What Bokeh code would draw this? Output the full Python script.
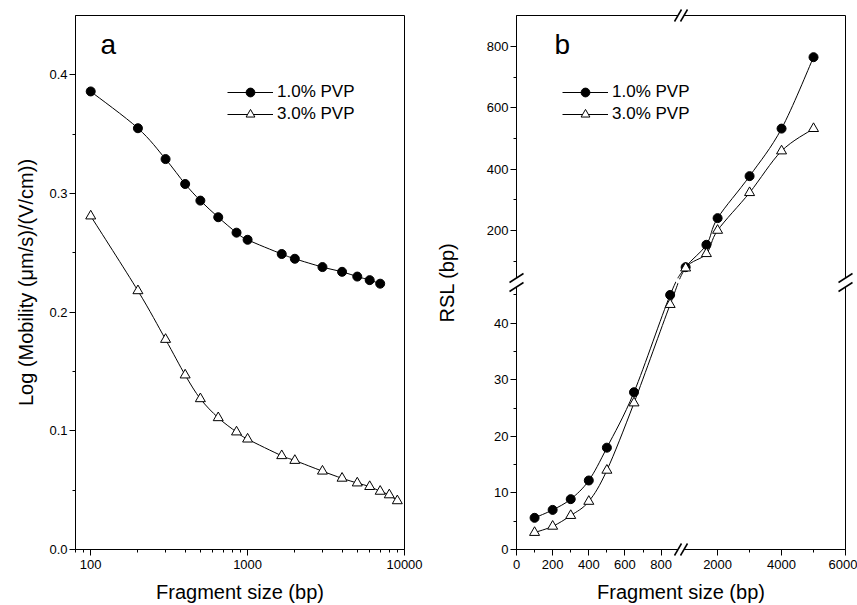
from bokeh.plotting import figure
from bokeh.layouts import row
from bokeh.models import (FixedTicker, PrintfTickFormatter, Range1d, Legend,
                          LegendItem, Label)
from bokeh.embed import file_html
from bokeh.resources import INLINE
import math

FONT = "Liberation Sans"

# ---------------- data ----------------
# panel a : Log mobility vs fragment size (log x)
size_a_1 = [100, 200, 300, 400, 500, 650, 850, 1000, 1650, 2000, 3000, 4000, 5000, 6000, 7000]
mob_a_1 = [0.386, 0.355, 0.329, 0.308, 0.294, 0.280, 0.267, 0.261, 0.249, 0.245,
           0.238, 0.234, 0.230, 0.227, 0.224]
size_a_3 = [100, 200, 300, 400, 500, 650, 850, 1000, 1650, 2000, 3000, 4000, 5000,
            6000, 7000, 8000, 9000]
mob_a_3 = [0.281, 0.218, 0.177, 0.147, 0.127, 0.111, 0.099, 0.093, 0.079, 0.075,
           0.066, 0.060, 0.056, 0.053, 0.049, 0.046, 0.041]

# panel b : RSL vs fragment size (broken axes)
size_b = [100, 200, 300, 400, 500, 650, 850, 1000, 1650, 2000, 3000, 4000, 5000]
rsl_b_1 = [5.6, 7.0, 8.9, 12.2, 18.0, 27.8, 45.0, 80, 153, 240, 377, 532, 765]
rsl_b_3 = [3.0, 4.1, 6.0, 8.5, 14.0, 25.9, 43.3, 77, 124, 200, 323, 459, 532]

series_labels = ["1.0% PVP", "3.0% PVP"]

xa_major = [100, 1000, 10000]
xa_minor = [80, 90, 200, 300, 400, 500, 600, 700, 800, 900,
            2000, 3000, 4000, 5000, 6000, 7000, 8000, 9000]
ya_major = [0.0, 0.1, 0.2, 0.3, 0.4]
ya_minor = [0.05, 0.15, 0.25, 0.35]

xb_major = [0, 200, 400, 600, 800, 2000, 4000, 6000]
xb_minor = [100, 300, 500, 700, 3000, 5000]
yb_major = [0, 10, 20, 30, 40, 200, 400, 600, 800]
yb_minor = [5, 15, 25, 35, 45, 100, 300, 500, 700]

# broken-axis segments of panel b (each occupies half of the frame)
XB_LOW, XB_HIGH, XB_CUT = (0, 910), (855, 6000), 900
YB_LOW, YB_HIGH, YB_CUT = (0, 47.2), (30, 901), 47

FW, FH = 329, 534  # frame size in px


def fx_b(v):
    if v <= XB_CUT:
        t = 0.5 * (v - XB_LOW[0]) / (XB_LOW[1] - XB_LOW[0])
    else:
        t = 0.5 + 0.5 * (v - XB_HIGH[0]) / (XB_HIGH[1] - XB_HIGH[0])
    return round(t, 6)


def fy_b(v):
    if v <= YB_CUT:
        t = 0.5 * (v - YB_LOW[0]) / (YB_LOW[1] - YB_LOW[0])
    else:
        t = 0.5 + 0.5 * (v - YB_HIGH[0]) / (YB_HIGH[1] - YB_HIGH[0])
    return round(t, 6)


def cr_bezier(xs, ys):
    n = len(xs)
    out = dict(x0=[], y0=[], x1=[], y1=[], cx0=[], cy0=[], cx1=[], cy1=[])
    for i in range(n - 1):
        a = max(i - 1, 0)
        d = min(i + 2, n - 1)
        out["x0"].append(xs[i]); out["y0"].append(ys[i])
        out["x1"].append(xs[i + 1]); out["y1"].append(ys[i + 1])
        out["cx0"].append(xs[i] + (xs[i + 1] - xs[a]) / 6)
        out["cy0"].append(ys[i] + (ys[i + 1] - ys[a]) / 6)
        out["cx1"].append(xs[i + 1] - (xs[d] - xs[i]) / 6)
        out["cy1"].append(ys[i + 1] - (ys[d] - ys[i]) / 6)
    return out


def style(p, ylab_standoff):
    p.background_fill_color = "white"
    p.border_fill_color = "white"
    p.outline_line_color = "black"
    p.outline_line_width = 1
    p.outline_line_alpha = 1
    p.grid.visible = False
    for ax in (p.xaxis[0], p.yaxis[0]):
        ax.axis_line_color = "black"
        ax.axis_line_width = 1
        ax.major_tick_line_color = "black"
        ax.minor_tick_line_color = "black"
        ax.major_tick_out = 6
        ax.major_tick_in = 0
        ax.minor_tick_out = 3
        ax.minor_tick_in = 0
        ax.major_label_text_font = FONT
        ax.major_label_text_font_size = "13px"
        ax.major_label_text_color = "black"
        ax.axis_label_text_font = FONT
        ax.axis_label_text_font_size = "20px"
        ax.axis_label_text_font_style = "normal"
        ax.axis_label_text_color = "black"
    p.xaxis[0].major_label_standoff = 4
    p.xaxis[0].axis_label_standoff = 9
    p.yaxis[0].major_label_standoff = 2
    p.yaxis[0].axis_label_standoff = ylab_standoff


def add_series(p, xs, ys, log_x=False):
    if log_x:
        lx = [math.log10(v) for v in xs]
        bz = cr_bezier(lx, ys)
        for k in ("x0", "x1", "cx0", "cx1"):
            bz[k] = [10 ** v for v in bz[k]]
    else:
        bz = cr_bezier(xs, ys)
    return p.bezier(line_color="black", line_width=1, **bz)


def add_legend(p, items, x, y):
    leg = Legend(items=items, location=(x, y), glyph_width=46, glyph_height=22,
                 label_height=22, label_standoff=4, spacing=0, padding=0, margin=0,
                 border_line_alpha=0, background_fill_alpha=0,
                 label_text_font=FONT, label_text_font_size="17px",
                 label_text_color="black")
    p.add_layout(leg)


# ---------------- panel a ----------------
pa = figure(width=430, height=605, x_axis_type="log", x_range=Range1d(80, 10000),
            y_range=Range1d(0, 0.45), output_backend="svg", toolbar_location=None,
            min_border_left=75, min_border_right=26, min_border_top=15,
            min_border_bottom=56)
style(pa, 9)
pa.xaxis[0].ticker = FixedTicker(ticks=xa_major, minor_ticks=xa_minor)
pa.xaxis[0].formatter = PrintfTickFormatter(format="%d")
pa.yaxis[0].ticker = FixedTicker(ticks=ya_major, minor_ticks=ya_minor)
pa.yaxis[0].formatter = PrintfTickFormatter(format="%.1f")
pa.xaxis[0].axis_label = "Fragment size (bp)"
pa.yaxis[0].axis_label = "Log (Mobility (\u03bcm/s)/(V/cm))"

la1 = add_series(pa, size_a_1, mob_a_1, log_x=True)
la3 = add_series(pa, size_a_3, mob_a_3, log_x=True)
sa1 = pa.scatter(size_a_1, mob_a_1, marker="circle", size=9, fill_color="black",
                 line_color="black")
sa3 = pa.scatter(size_a_3, mob_a_3, marker="triangle", size=10, fill_color="white",
                 line_color="black", line_width=1)
add_legend(pa, [LegendItem(label=series_labels[0], renderers=[la1, sa1]),
                LegendItem(label=series_labels[1], renderers=[la3, sa3])], 152, 424)
pa.add_layout(Label(x=25, y=505, x_units="screen", y_units="screen", text="a",
                    text_font=FONT, text_font_size="28px", text_color="black",
                    text_baseline="alphabetic"))

# ---------------- panel b ----------------
pb = figure(width=427, height=605, x_range=Range1d(0, 1), y_range=Range1d(0, 1),
            output_backend="svg", toolbar_location=None,
            min_border_left=86, min_border_right=12, min_border_top=15,
            min_border_bottom=56)
style(pb, 26)
pb.xaxis[0].ticker = FixedTicker(ticks=[fx_b(v) for v in xb_major],
                                 minor_ticks=[fx_b(v) for v in xb_minor])
pb.xaxis[0].major_label_overrides = {fx_b(v): str(v) for v in xb_major}
pb.yaxis[0].ticker = FixedTicker(ticks=[fy_b(v) for v in yb_major],
                                 minor_ticks=[fy_b(v) for v in yb_minor])
pb.yaxis[0].major_label_overrides = {fy_b(v): str(v) for v in yb_major}
pb.xaxis[0].axis_label = "Fragment size (bp)"
pb.yaxis[0].axis_label = "RSL (bp)"

xb = [fx_b(v) for v in size_b]
yb1 = [fy_b(v) for v in rsl_b_1]
yb3 = [fy_b(v) for v in rsl_b_3]
lb1 = add_series(pb, xb, yb1)
lb3 = add_series(pb, xb, yb3)

ux, uy = 1.0 / FW, 1.0 / FH
bx, by = 0.5, 0.5
# gap in the curves where they cross the axis break
pb.segment(x0=[bx - 9 * 0.87 * ux], y0=[by + 9 * 0.49 * uy],
           x1=[bx + 9 * 0.87 * ux], y1=[by - 9 * 0.49 * uy],
           line_color="white", line_width=4)

sb1 = pb.scatter(xb, yb1, marker="circle", size=9, fill_color="black", line_color="black")
sb3 = pb.scatter(xb, yb3, marker="triangle", size=10, fill_color="white",
                 line_color="black", line_width=1)
add_legend(pb, [LegendItem(label=series_labels[0], renderers=[lb1, sb1]),
                LegendItem(label=series_labels[1], renderers=[lb3, sb3])], 46, 424)
pb.add_layout(Label(x=38, y=505, x_units="screen", y_units="screen", text="b",
                    text_font=FONT, text_font_size="28px", text_color="black",
                    text_baseline="alphabetic"))

# axis break marks
pb.segment(x0=[0, 1], y0=[by - 4.5 * uy] * 2, x1=[0, 1], y1=[by + 4.5 * uy] * 2,
           line_color="white", line_width=4, level="overlay")
pb.segment(x0=[bx - 3 * ux] * 2, y0=[0, 1], x1=[bx + 3 * ux] * 2, y1=[0, 1],
           line_color="white", line_width=4, level="overlay")
sx0, sy0, sx1, sy1 = [], [], [], []
for axx in (0, 1):
    for s in (-4.5, 4.5):
        sx0.append(axx - 7 * ux); sy0.append(by + (s - 4.5) * uy)
        sx1.append(axx + 7 * ux); sy1.append(by + (s + 4.5) * uy)
for axy in (0, 1):
    for s in (-3, 3):
        sx0.append(bx + (s - 3.5) * ux); sy0.append(axy - 6 * uy)
        sx1.append(bx + (s + 3.5) * ux); sy1.append(axy + 6 * uy)
pb.segment(x0=sx0, y0=sy0, x1=sx1, y1=sy1, line_color="black", line_width=1.5,
           level="overlay")

layout = row(pa, pb)
open("out.html", "w").write(file_html(layout, INLINE))
